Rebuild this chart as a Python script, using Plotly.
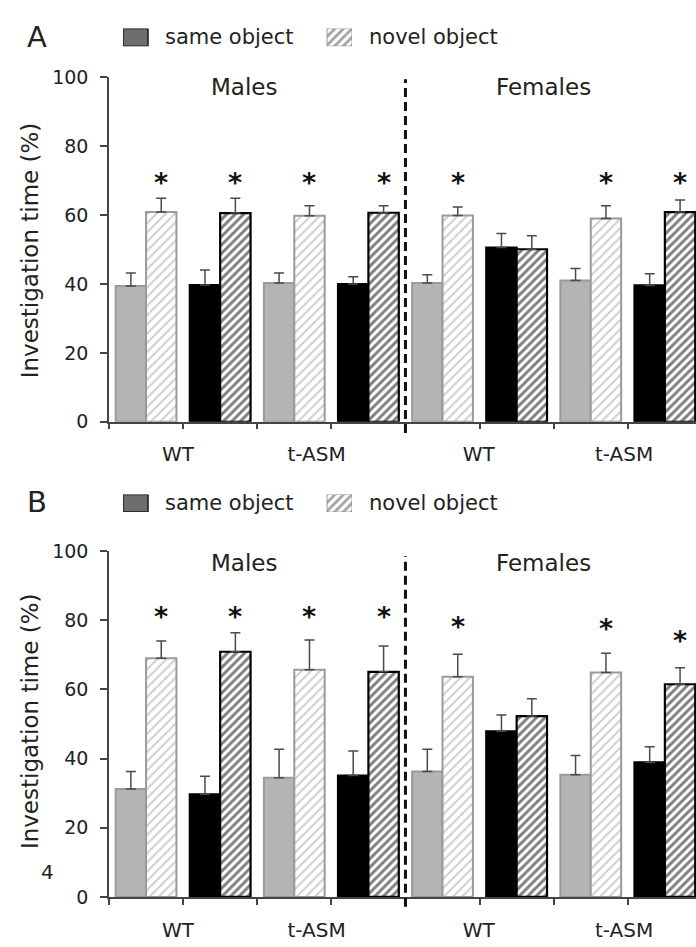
import plotly.graph_objects as go

W, H = 696, 947
L = 109  # left edge of plotting area (px)

FONT = "DejaVu Sans"
TXT = "#222222"

# ---------------- data ----------------
sexes = ["Males", "Females"]
genotype_labels = ["WT", "t-ASM", "WT", "t-ASM"]
# colour scheme per group (gray = first condition, black = second)
group_colour = ["gray", "black", "gray", "black", "gray", "black", "gray", "black"]

A_same = [39.4, 39.7, 40.3, 40.0, 40.3, 50.6, 41.0, 39.6]
A_same_err = [3.8, 4.4, 2.9, 2.1, 2.4, 4.1, 3.5, 3.4]
A_novel = [60.9, 60.6, 59.8, 60.7, 59.9, 50.1, 59.0, 60.9]
A_novel_err = [4.0, 4.3, 2.9, 2.0, 2.5, 3.9, 3.7, 3.5]
A_sig = [True, True, True, True, True, False, True, True]
A_sig_level = [70.2, 70.2, 70.2, 70.2, 70.2, None, 70.2, 70.2]

B_same = [31.2, 29.7, 34.5, 35.1, 36.3, 47.9, 35.3, 38.9]
B_same_err = [5.1, 5.2, 8.2, 7.1, 6.4, 4.7, 5.6, 4.5]
B_novel = [69.0, 70.9, 65.7, 65.1, 63.7, 52.3, 64.9, 61.5]
B_novel_err = [5.0, 5.5, 8.6, 7.5, 6.5, 5.0, 5.6, 4.8]
B_sig = [True, True, True, True, True, False, True, True]
B_sig_level = [81.6, 81.6, 81.6, 81.6, 78.8, None, 78.2, 74.6]

y_ticks = [0, 20, 40, 60, 80, 100]
legend_labels = ["same object", "novel object"]

# ---------------- styling helpers ----------------
groups = list(range(len(A_same)))
OFF, BW = 0.205, 0.41
same_x = [g - OFF for g in groups]
novel_x = [g + OFF for g in groups]

fill_same = {"gray": "#b4b4b4", "black": "#000000"}
line_col = {"gray": "#9a9a9a", "black": "#000000"}
hatch_fg = {"gray": "#9c9c9c", "black": "#000000"}
hatch_sol = {"gray": 0.3, "black": 0.48}
hatch_size = {"gray": 6.5, "black": 6}
line_w = {"gray": 2.0, "black": 2.2}


def px_x(px):
    return (px - L) / (W - L)


def px_y(py):
    return 1 - py / H


panels = [
    dict(name="A", same=A_same, se=A_same_err, novel=A_novel, ne=A_novel_err,
         sig=A_sig, lev=A_sig_level, dom=[px_y(420.5), px_y(68)], xa="x", ya="y",
         letter_y=27, title_y=78, ytitle_y=245, dash=(70, 432), legend_y=(18, 36)),
    dict(name="B", same=B_same, se=B_same_err, novel=B_novel, ne=B_novel_err,
         sig=B_sig, lev=B_sig_level, dom=[px_y(907), px_y(553)], xa="x2", ya="y2",
         letter_y=503, title_y=565, ytitle_y=727, dash=(558, 917), legend_y=(495, 513)),
]

fig = go.Figure()
annotations = []
shapes = []

for i, p in enumerate(panels):
    # same-object bars
    fig.add_trace(go.Bar(
        x=same_x, y=p["same"], width=BW, xaxis=p["xa"], yaxis=p["ya"],
        marker=dict(color=[fill_same[c] for c in group_colour],
                    line=dict(color=[line_col[c] for c in group_colour],
                              width=[line_w[c] for c in group_colour])),
        error_y=dict(type="data", symmetric=False, array=p["se"],
                     arrayminus=[0] * len(p["se"]), color="#4a4a4a",
                     thickness=1.5, width=5),
        showlegend=False, hoverinfo="skip"))
    # novel-object bars (hatched)
    fig.add_trace(go.Bar(
        x=novel_x, y=p["novel"], width=BW, xaxis=p["xa"], yaxis=p["ya"],
        marker=dict(color="white",
                    line=dict(color=[line_col[c] for c in group_colour],
                              width=[line_w[c] for c in group_colour]),
                    pattern=dict(shape="/", bgcolor="white",
                                 fgcolor=[hatch_fg[c] for c in group_colour],
                                 size=[hatch_size[c] for c in group_colour],
                                 solidity=[hatch_sol[c] for c in group_colour])),
        error_y=dict(type="data", symmetric=False, array=p["ne"],
                     arrayminus=[0] * len(p["ne"]), color="#4a4a4a",
                     thickness=1.5, width=5),
        showlegend=False, hoverinfo="skip"))

    # significance asterisks
    for g, (s, lev) in enumerate(zip(p["sig"], p["lev"])):
        if s:
            annotations.append(dict(x=novel_x[g], y=lev, xref=p["xa"], yref=p["ya"],
                                    text="<b>*</b>", showarrow=False,
                                    font=dict(family=FONT, size=27, color="#111111"),
                                    yanchor="middle", yshift=-2))

    # legend swatches (auxiliary axes)
    ax_id = 3 + i
    fig.add_trace(go.Bar(
        x=[0, 1], y=[1, 1], width=0.1225, xaxis=f"x{ax_id}", yaxis=f"y{ax_id}",
        cliponaxis=False,
        marker=dict(color=["#6e6e6e", "white"],
                    line=dict(color=["#1a1a1a", "#8a8a8a"], width=[1.5, 0.8]),
                    pattern=dict(shape=["", "/"], bgcolor="white", fgcolor="#6a6a6a",
                                 size=6, solidity=0.45)),
        showlegend=False, hoverinfo="skip"))
    ly0, ly1 = p["legend_y"]
    fig.update_layout(**{
        f"xaxis{ax_id}": dict(domain=[px_x(123), px_x(352)], range=[-0.0613, 1.0613],
                              visible=False, anchor=f"y{ax_id}", fixedrange=True),
        f"yaxis{ax_id}": dict(domain=[px_y(ly1), px_y(ly0)], range=[0, 1],
                              visible=False, anchor=f"x{ax_id}", fixedrange=True),
    })
    lyc = (ly0 + ly1) / 2
    annotations.append(dict(x=px_x(163), y=px_y(lyc), xref="paper", yref="paper",
                            text=legend_labels[0], showarrow=False, xanchor="left",
                            yanchor="middle", font=dict(family=FONT, size=21, color=TXT)))
    annotations.append(dict(x=px_x(367), y=px_y(lyc), xref="paper", yref="paper",
                            text=legend_labels[1], showarrow=False, xanchor="left",
                            yanchor="middle", font=dict(family=FONT, size=21, color=TXT)))

    # panel letter
    annotations.append(dict(x=px_x(37), y=px_y(p["letter_y"]), xref="paper", yref="paper",
                            text=p["name"], showarrow=False, xanchor="center",
                            yanchor="middle", font=dict(family=FONT, size=29, color=TXT)))
    # section titles
    for sx, sname in zip([244, 543], sexes):
        annotations.append(dict(x=px_x(sx), y=px_y(p["title_y"]), xref="paper", yref="paper",
                                text=sname, showarrow=False, xanchor="center",
                                yanchor="middle", font=dict(family=FONT, size=23, color=TXT)))
    # y-axis title
    annotations.append(dict(x=px_x(30), y=px_y(p["ytitle_y"]), xref="paper", yref="paper",
                            text="Investigation time (%)", textangle=-90, showarrow=False,
                            xanchor="center", yanchor="middle",
                            font=dict(family=FONT, size=23, color=TXT)))
    # dashed divider between sexes
    d0, d1 = p["dash"]
    shapes.append(dict(type="line", xref=p["xa"], yref="paper", x0=3.5, x1=3.5,
                       y0=px_y(d1), y1=px_y(d0),
                       line=dict(color="#111111", width=3, dash="9px,5px")))

# stray "4" in panel B
annotations.append(dict(x=px_x(47), y=px_y(881), xref="paper", yref="paper", text="4",
                        showarrow=False, xanchor="center", yanchor="middle",
                        font=dict(family=FONT, size=20, color=TXT)))

label_pos = [0.43, 2.3, 4.49, 6.45]
axis_common = dict(range=[-0.5, 7.42], showline=True, linecolor="#444444", linewidth=1.5,
                   showgrid=False, zeroline=False, tickmode="array", tickvals=label_pos,
                   ticktext=genotype_labels, ticks="", ticklabelstandoff=14,
                   tickfont=dict(family=FONT, size=20, color=TXT),
                   minor=dict(tickmode="linear", tick0=-0.5, dtick=1, ticks="outside",
                              ticklen=6, tickwidth=1.5, tickcolor="#444444"),
                   fixedrange=True)
yaxis_common = dict(range=[0, 100], tickmode="array", tickvals=y_ticks, showline=True,
                    linecolor="#444444", linewidth=1.5, ticks="outside", ticklen=7,
                    tickwidth=1.5, tickcolor="#444444", showgrid=False, zeroline=False,
                    ticklabelstandoff=8, tickfont=dict(family=FONT, size=19, color=TXT),
                    fixedrange=True)

fig.update_layout(
    width=W, height=H,
    margin=dict(l=L, r=0, t=0, b=0),
    paper_bgcolor="white", plot_bgcolor="white",
    barmode="overlay", showlegend=False,
    xaxis=dict(domain=[0, 1], anchor="y", **axis_common),
    yaxis=dict(domain=panels[0]["dom"], anchor="x", **yaxis_common),
    xaxis2=dict(domain=[0, 1], anchor="y2", **axis_common),
    yaxis2=dict(domain=panels[1]["dom"], anchor="x2", **yaxis_common),
    annotations=annotations, shapes=shapes,
)

fig.write_html(
    "out.html",
    config={"displayModeBar": False},
    post_script="document.body.style.margin='0';document.body.style.overflow='hidden';",
)
